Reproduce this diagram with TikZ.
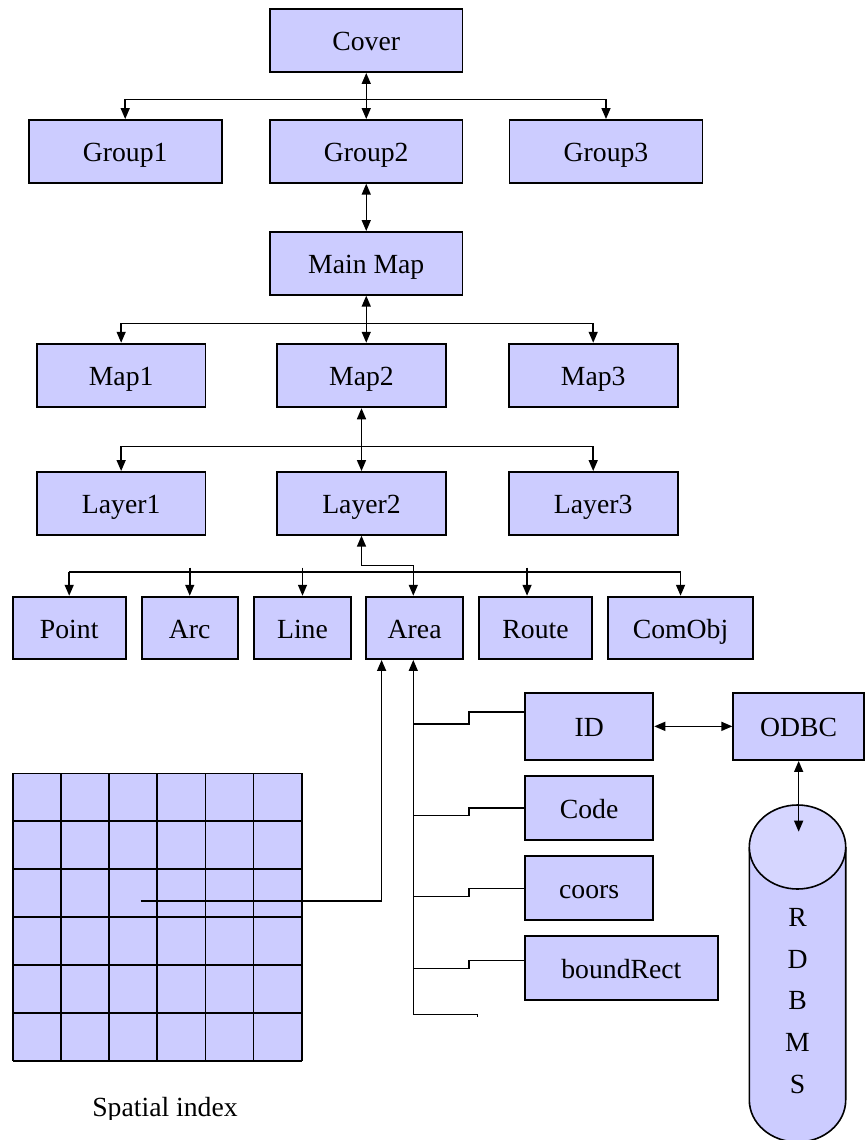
\documentclass[tikz,border=0pt]{standalone}
\usepackage{fontspec}
\setmainfont{Liberation Serif}
\usetikzlibrary{arrows.meta}
\definecolor{boxfill}{HTML}{CCCCFF}
\definecolor{topfill}{HTML}{D6D6FF}
\tikzset{
  box/.style 2 args={draw=black, fill=boxfill, line width=1.9pt, inner sep=0pt,
    minimum width=#1pt, minimum height=#2pt,
    font=\fontsize{27.7}{33}\selectfont, text height=20.3pt, text depth=0pt},
  conn/.style={line width=1.5pt},
  arr/.style={conn, -{Triangle[length=11pt,width=9pt]}},
  dbl/.style={conn, {Triangle[length=11pt,width=9pt]}-{Triangle[length=11pt,width=9pt]}},
  lbl/.style={font=\fontsize{27.7}{33}\selectfont, inner sep=0pt},
}
\begin{document}
\begin{tikzpicture}[x=1pt,y=-1pt]
\useasboundingbox (0,0) rectangle (867,1140);
\clip (0,0) rectangle (867,1140);

% ---- boxes
\node[box={192.5}{62.7}] (cover) at (366.25,40.65) {Cover};
\node[box={193}{62.7}] (group1) at (125.2,151.35) {Group1};
\node[box={192.5}{62.7}] (group2) at (366.25,151.35) {Group2};
\node[box={193}{62.7}] (group3) at (606,151.35) {Group3};
\node[box={192.5}{62.7}] (mainmap) at (366.25,263.35) {Main Map};
\node[box={168.7}{63.6}] (map1) at (121.15,375.5) {Map1};
\node[box={169}{63.6}] (map2) at (361.5,375.5) {Map2};
\node[box={169}{63.6}] (map3) at (593.2,375.5) {Map3};
\node[box={168.7}{62.7}] (layer1) at (121.15,503.35) {Layer1};
\node[box={169}{62.7}] (layer2) at (361.5,503.35) {Layer2};
\node[box={169}{62.7}] (layer3) at (593.2,503.35) {Layer3};
\node[box={112.8}{62.3}] (point) at (69.2,627.85) {Point};
\node[box={96.1}{62.3}] (arc) at (189.75,627.85) {Arc};
\node[box={96.2}{62.3}] (line) at (302.5,627.85) {Line};
\node[box={97.3}{62.3}] (area) at (414.65,627.85) {Area};
\node[box={112.3}{62.3}] (route) at (535.55,627.85) {Route};
\node[box={144.5}{62.3}] (comobj) at (680.55,627.85) {ComObj};
\node[box={128.3}{67.3}] (id) at (589.15,726.35) {ID};
\node[box={130.7}{67.3}] (odbc) at (798.65,726.35) {ODBC};
\node[box={128.3}{64.3}] (code) at (589.15,808.15) {Code};
\node[box={128.3}{64}] (coors) at (589.15,888.3) {coors};
\node[box={192.7}{64}] (boundrect) at (621.35,968.3) {boundRect};

% ---- spatial index grid
\fill[boxfill] (12.7,773.3) rectangle (301.7,1061);
\foreach \i in {0,...,6} {
  \draw[line width=1.6pt] (12.7+48.167*\i,773.3) -- (12.7+48.167*\i,1061);
  \draw[line width=1.6pt] (12.7,773.3+47.95*\i) -- (301.7,773.3+47.95*\i);
}
\begin{scope}
  \clip (0,0) rectangle (867,1119.5);
  \node[lbl, anchor=base] (spatial) at (165,1116.6) {Spatial index};
\end{scope}

% ---- RDBMS cylinder
\draw[line width=1.6pt, fill=boxfill] (749.3,847) -- (749.3,1100)
  arc[start angle=180, end angle=360, x radius=48.2pt, y radius=42pt] -- (845.7,847);
\draw[line width=1.6pt, fill=topfill] (797.5,847) ellipse [x radius=48.2pt, y radius=42pt];
\foreach \l/\yy [count=\k] in {R/926.7, D/968.3, B/1009.9, M/1051.5, S/1093.1} {
  \node[lbl, anchor=base] (db\k) at (797.5,\yy) {\l};
}
\coordinate (dbtop) at (798.65,831.7);

% ---- tree connectors
\coordinate (b1) at (366.25,99.3);
\draw[dbl] (cover.south) -- (group2.north);
\draw[arr] (b1) -| (group1.north);
\draw[arr] (b1) -| (group3.north);
\draw[dbl] (group2.south) -- (mainmap.north);

\coordinate (b2) at (366.25,323.3);
\draw[dbl] (mainmap.south) -- (mainmap.south |- map2.north);
\draw[arr] (b2) -| (map1.north);
\draw[arr] (b2) -| (map3.north);

\coordinate (b3) at (361.5,446.7);
\draw[dbl] (map2.south) -- (layer2.north);
\draw[arr] (b3) -| (layer1.north);
\draw[arr] (b3) -| (layer3.north);

% bottom bus
\coordinate (bb) at (0,572);
\coordinate (bt) at (0,567.5);
\coordinate (j) at (413.3,565.7);
\draw[conn] (point.north |- bb) -- (comobj.north |- bb);
\draw[arr] (point.north |- bb) -- (point.north);
\draw[arr] (arc.north |- bt) -- (arc.north);
\draw[arr] (line.north |- bt) -- (line.north);
\draw[arr] ([xshift=-8.5pt]route.north |- bt) -- ([xshift=-8.5pt]route.north);
\draw[arr] (comobj.north |- bb) -- (comobj.north);
\draw[dbl] (layer2.south) |- (j) -- (j |- area.north);

% area attributes
\coordinate (sp) at (140.7,901);
\coordinate (t1) at (381.6,901);
\draw[arr] (sp) -- (t1) -- (t1 |- area.south);
\coordinate (tb) at (413.3,1014.3);
\coordinate (te) at (477.3,1014.3);
\draw[arr] (tb) -- (tb |- area.south);
\draw[conn] (tb) -- (te) -- ++(0,3);
\coordinate (k1) at (469,724);
\coordinate (k2) at (469,815.7);
\coordinate (k3) at (469,896.3);
\coordinate (k4) at (469,968.3);
\draw[conn] (tb |- k1) -- (k1) |- ([yshift=14.6pt]id.west);
\draw[conn] (tb |- k2) -- (k2) |- (code.west);
\draw[conn] (tb |- k3) -- (k3) |- (coors.west);
\draw[conn] (tb |- k4) -- (k4) |- ([yshift=8pt]boundrect.west);

% database links
\draw[dbl] (id.east) -- (odbc.west);
\draw[dbl] (odbc.south) -- (dbtop);
\end{tikzpicture}
\end{document}
